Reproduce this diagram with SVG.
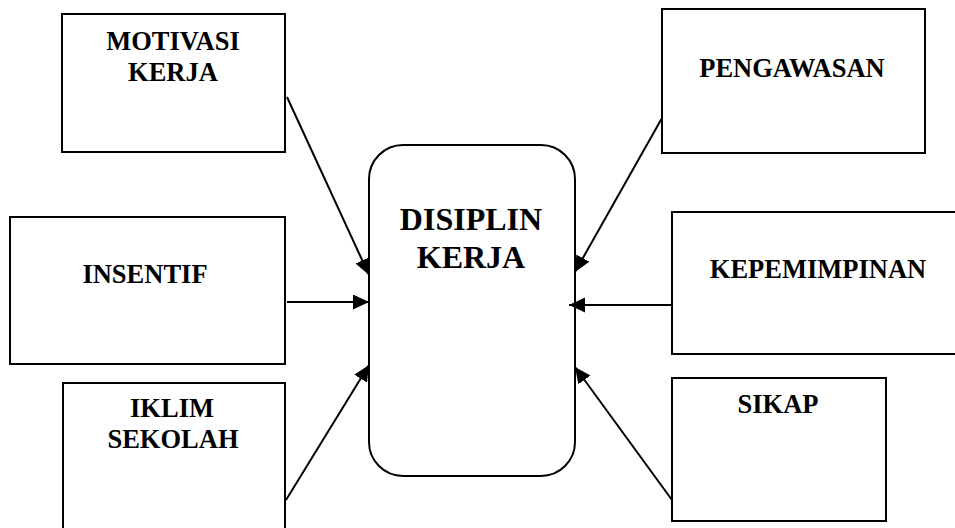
<svg xmlns="http://www.w3.org/2000/svg" width="955" height="528" viewBox="0 0 955 528">
<defs>
<style>
.box{fill:#fff;stroke:#000;stroke-width:2}
.con line{stroke:#000;stroke-width:2;marker-end:url(#ah)}
</style>
<marker id="ah" markerUnits="userSpaceOnUse" markerWidth="18" markerHeight="16" refX="16" refY="7.5" orient="auto">
<path d="M0,0 L16,7.5 L0,15 z" fill="#000"/>
</marker>
</defs>
<rect width="955" height="528" fill="#fff"/>
<g font-family="Liberation Serif, Times New Roman, serif" font-weight="bold" font-size="26.5" text-anchor="middle" fill="#000">
<g id="motivasi">
<rect class="box" x="62" y="14" width="223" height="138"/>
<text x="173" y="50">MOTIVASI</text>
<text x="173" y="81">KERJA</text>
</g>
<g id="insentif">
<rect class="box" x="10" y="217" width="275" height="147"/>
<text x="145" y="283">INSENTIF</text>
</g>
<g id="iklim">
<rect class="box" x="63" y="383" width="222" height="150"/>
<text x="172" y="417">IKLIM</text>
<text x="173" y="448">SEKOLAH</text>
</g>
<g id="disiplin">
<rect class="box" x="369" y="145" width="206" height="331" rx="34" ry="34"/>
<text x="471" y="230" font-size="32">DISIPLIN</text>
<text x="471" y="268" font-size="32">KERJA</text>
</g>
<g id="pengawasan">
<rect class="box" x="662" y="9" width="263" height="144"/>
<text x="792" y="77">PENGAWASAN</text>
</g>
<g id="kepemimpinan">
<rect class="box" x="672" y="212" width="290" height="142"/>
<text x="818" y="278">KEPEMIMPINAN</text>
</g>
<g id="sikap">
<rect class="box" x="672" y="378" width="214" height="143"/>
<text x="778" y="413">SIKAP</text>
</g>
</g>
<g id="connectors" class="con">
<line x1="287" y1="97" x2="369" y2="275"/>
<line x1="287" y1="302" x2="369" y2="302"/>
<line x1="286" y1="500" x2="369" y2="365"/>
<line x1="662" y1="118" x2="575" y2="272"/>
<line x1="672" y1="305" x2="569" y2="305"/>
<line x1="672" y1="500" x2="575" y2="367"/>
</g>
</svg>
